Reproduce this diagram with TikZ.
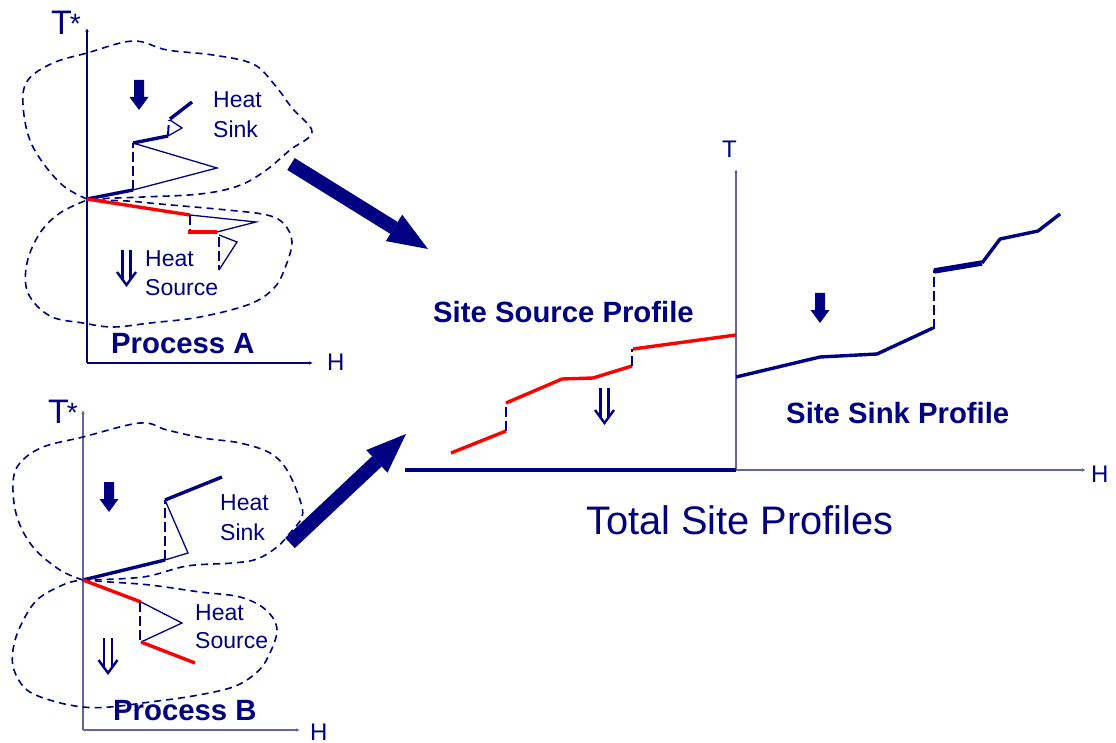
\documentclass[tikz,border=0pt]{standalone}
\usepackage{fontspec}
\setmainfont{Liberation Sans}
\usetikzlibrary{arrows.meta}
\definecolor{navy}{RGB}{0,0,128}
\definecolor{axisgray}{RGB}{100,100,165}
\definecolor{srcred}{RGB}{255,0,0}

\begin{document}
\begin{tikzpicture}[x=1pt,y=-1pt,
  axis/.style={line width=1.4pt,-{Latex[length=4pt,width=3.5pt]}},
  blob/.style={navy,line width=1.6pt,dash pattern=on 7pt off 5pt},
  sinkthick/.style={navy,line width=3.4pt,line join=round},
  thinline/.style={navy,line width=1.3pt},
  srcthick/.style={srcred,line width=3.4pt,line join=round},
  jump/.style={navy,line width=2.6pt,dash pattern=on 10pt off 4pt},
  lbl/.style={navy,inner sep=0pt,anchor=base west,font=\fontsize{23}{26}\selectfont},
  axlbl/.style={navy,inner sep=0pt,anchor=base west,font=\fontsize{24}{27}\selectfont},
  ttl/.style={navy,inner sep=0pt,anchor=base west,font=\fontsize{29.3}{32}\selectfont\bfseries},
  tstar/.style={navy,inner sep=0pt,anchor=base west,font=\fontsize{34}{36}\selectfont},
  bigarrow/.style={navy,line width=14pt,-{Triangle[length=40pt,width=31pt,line width=0pt]}},
  pics/blockdown/.style={code={
    \fill[navy] (-5,0) -- (5,0) -- (5,17) -- (9.5,17) -- (0,30) -- (-9.5,17) -- (-5,17) -- cycle;}},
  pics/dbldown/.style={code={
    \draw[navy,line width=2.4pt] (-4,0) -- (-4,29) (4,0) -- (4,29);
    \draw[navy,line width=2.4pt,line join=miter] (-9.5,22) -- (0,35) -- (9.5,22);}}
]
\useasboundingbox (0,0) rectangle (1116,743);

% ---------------- Process A ----------------
\coordinate (oA) at (87,199);
\coordinate (aTop) at (87,28);
\coordinate (aCorner) at (87,363);
\coordinate (aRight) at (313,363);
\draw[axis,navy] (aCorner) -- (aTop);
\draw[axis,navy] (aCorner) -- (aRight);
\node[tstar] (tA) at (51,35) {T\kern-2pt\raisebox{1pt}{\fontsize{28}{30}\selectfont *}};
\node[axlbl] (hA) at (327,370) {H};

% upper (sink) and lower (source) regions
\draw[blob] plot[smooth,tension=0.6] coordinates {(87,199) (60,183) (32,145) (23,105) (28,80) (53,63) (87,53) (133,41) (167,50) (213,55) (253,64) (274,84) (292,108) (312,132) (290,150) (265,171) (238,186) (200,194) (143,197) (87,199)};
\draw[blob] plot[smooth,tension=0.6] coordinates {(87,200) (127,201) (160,204) (227,210) (267,215) (284,224) (292,242) (285,268) (274,288) (250,304) (200,317) (150,323) (113,327) (83,323) (50,316) (28,293) (27,263) (40,233) (60,213) (87,200)};

% sink composite
\draw[sinkthick] (oA) -- (133,190);
\draw[jump] (133,190) -- (133,143);
\draw[thinline] (133,190) -- (217,168) -- (133,143);
\draw[sinkthick] (133,143) -- (168,136);
\draw[thinline] (168,136) -- (182,128) -- (170,120);
\draw[jump,line width=2pt] (168,135) -- (169,120);
\draw[sinkthick] (170,119) -- (192,102);

% source composite
\draw[srcthick] (oA) -- (190,215);
\draw[jump,line width=2pt] (190,215) -- (190,231);
\draw[thinline] (190,215) -- (256,222) -- (217,232);
\draw[srcthick] (188,232) -- (217,232);
\draw[thinline] (219,235) -- (237,242) -- (219,270);
\draw[jump,line width=2pt] (219,237) -- (219,270);

\pic at (139,80) {blockdown};
\pic at (126.5,250) {dbldown};
\node[lbl] (hsA1) at (213,108) {Heat};
\node[lbl] (hsA2) at (213,138) {Sink};
\node[lbl] (hoA1) at (145,267) {Heat};
\node[lbl] (hoA2) at (145,295) {Source};
\node[ttl] (pA) at (111,353) {Process A};

% ---------------- Process B ----------------
\coordinate (oB) at (83,580);
\coordinate (bTop) at (83,410);
\coordinate (bCorner) at (83,730);
\coordinate (bRight) at (300,730);
\draw[axis,axisgray] (bCorner) -- (bTop);
\draw[axis,axisgray] (bCorner) -- (bRight);
\node[tstar] (tB) at (48,423) {T\kern-2pt\raisebox{1pt}{\fontsize{28}{30}\selectfont *}};
\node[axlbl] (hB) at (310,740) {H};

\draw[blob] plot[smooth,tension=0.6] coordinates {(83,580) (60,570) (33,547) (17,517) (13,483) (20,463) (43,447) (83,437) (140,423) (167,430) (203,438) (240,443) (270,453) (287,470) (300,500) (302,517) (290,533) (277,547) (257,559) (233,563) (187,566) (143,577) (83,580)};
\draw[blob] plot[smooth,tension=0.6] coordinates {(83,580) (110,582) (150,585) (200,592) (240,597) (266,610) (277,630) (268,657) (256,673) (233,687) (193,696) (150,702) (110,707) (83,707) (53,701) (27,690) (14,670) (13,650) (20,627) (37,600) (65,584) (83,580)};

\draw[sinkthick] (oB) -- (165,560);
\draw[jump] (165,560) -- (165,500);
\draw[thinline] (165,560) -- (188,553) -- (165,500);
\draw[sinkthick] (165,500) -- (222,477);

\draw[srcthick] (oB) -- (141,602);
\draw[jump,line width=2pt] (140,602) -- (140,642);
\draw[thinline] (141,602) -- (182,623) -- (141,642);
\draw[srcthick] (141,642) -- (195,663);

\pic at (109,482) {blockdown};
\pic at (108,638) {dbldown};
\node[lbl] (hsB1) at (220,510) {Heat};
\node[lbl] (hsB2) at (220,540) {Sink};
\node[lbl] (hoB1) at (195,620) {Heat};
\node[lbl] (hoB2) at (195,648) {Source};
\node[ttl] (pB) at (113,720) {Process B};

% ---------------- Total site profiles ----------------
\coordinate (sOrig) at (736,470);
\coordinate (sTop) at (736,169);
\coordinate (sRight) at (1086,470);
\coordinate (sLeft) at (405,470);
\draw[axis,axisgray] (sOrig) -- (sTop);
\draw[axis,axisgray] (sOrig) -- (sRight);
\draw[navy,line width=4pt] (sLeft) -- (sOrig);
\node[axlbl] (tS) at (722,158) {T};
\node[axlbl] (hS) at (1091,482) {H};

% site source profile
\draw[srcthick] (451,453) -- (506,431);
\draw[jump] (506,431) -- (506,403);
\draw[srcthick] (506,403) -- (562,379) -- (593,378) -- (632,366);
\draw[jump] (632,366) -- (632,349);
\draw[srcthick] (633,349) -- (736,335);

% site sink profile
\draw[sinkthick] (736,377) -- (820,357) -- (877,354) -- (933,328);
\draw[jump] (934,329) -- (934,270);
\draw[navy,line width=5.5pt] (934,271) -- (982,263);
\draw[sinkthick] (982,263) -- (1000,239) -- (1038,231) -- (1060,214);

\pic at (820,293) {blockdown};
\pic at (604.5,388) {dbldown};
\node[ttl] (ssrc) at (433,323) {Site Source Profile};
\node[ttl] (ssnk) at (786,423) {Site Sink Profile};
\node[navy,inner sep=0pt,anchor=base west,font=\fontsize{39.8}{42}\selectfont] (total) at (586,534) {Total Site Profiles};

% ---------------- combining arrows ----------------
\coordinate (aTail) at (291,164);
\coordinate (aTip) at (428,249);
\coordinate (bTail) at (290,543);
\coordinate (bTip) at (406,434);
\draw[bigarrow] (aTail) -- (aTip);
\draw[bigarrow] (bTail) -- (bTip);
\end{tikzpicture}
\end{document}
